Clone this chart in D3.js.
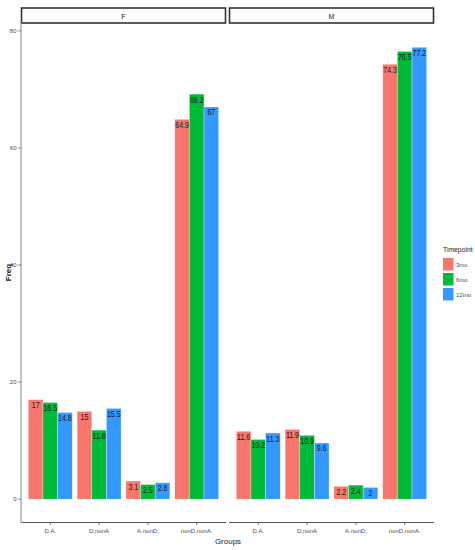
<!DOCTYPE html>
<html><head><meta charset="utf-8">
<script src="https://cdn.jsdelivr.net/npm/d3@7"></script>
<style>body{margin:0;background:#fff}svg{display:block}</style>
</head><body>
<script>
const groups = ["D.A.", "D.nonA", "A.nonD.", "nonD.nonA."];
const panels = ["F", "M"];
const timepoints = ["3mo", "6mo", "12mo"];
const colors = ["#F8766D", "#00BA38", "#3399FF"];
const valuesF = [[17, 16.5, 14.8], [15, 11.8, 15.5], [3.1, 2.5, 2.8], [64.9, 69.2, 67]];
const valuesM = [[11.6, 10.2, 11.3], [11.9, 10.9, 9.6], [2.2, 2.4, 2], [74.3, 76.5, 77.2]];
const yTicks = [0, 20, 40, 60, 80];

(function () {
const W = 475, H = 550;
const svg = d3.select("body").append("svg").attr("width", W).attr("height", H);
const pTop = 23, pBottom = 522;
const panelX = [[21, 226], [229, 434]];
const y = d3.scaleLinear().domain([-3.9, 81.35]).range([pBottom, pTop]);
const sans = "'Liberation Sans',Arial,sans-serif";

const data = [valuesF, valuesM];
panels.forEach((p, pi) => {
  const [x0, x1] = panelX[pi];
  const xc = d3.scaleLinear().domain([0.4, 4.6]).range([x0, x1]);
  const unit = xc(2) - xc(1);
  const bw = 0.9 * unit / 3;
  const g = svg.append("g");
  g.append("rect").attr("x", x0 + 0.5).attr("y", 8).attr("width", x1 - x0 - 1).attr("height", 15)
    .attr("fill", "#fff").attr("stroke", "#333").attr("stroke-width", 1.6);
  g.append("text").attr("x", (x0 + x1) / 2).attr("y", 18.5).attr("text-anchor", "middle")
    .attr("font-family", sans).attr("font-size", 7).attr("fill", "#1a1a1a").text(p);
  groups.forEach((gname, gi) => {
    const cx = xc(gi + 1);
    data[pi][gi].forEach((v, ti) => {
      const bx = cx - 0.45 * unit + ti * bw;
      g.append("rect").attr("x", bx).attr("y", y(v)).attr("width", bw).attr("height", y(0) - y(v))
        .attr("fill", colors[ti]).attr("stroke", "#ffffff").attr("stroke-opacity", 0.5).attr("stroke-width", 0.6);
      g.append("text").attr("transform", `translate(${bx + bw / 2},${y(v) + 8.5}) scale(0.78,1)`)
        .attr("text-anchor", "middle")
        .attr("font-family", sans).attr("font-size", 9).attr("fill", "#1a1a1a").text(v);
    });
    g.append("line").attr("x1", cx).attr("x2", cx).attr("y1", pBottom).attr("y2", pBottom + 3)
      .attr("stroke", "#333").attr("stroke-width", 0.7);
    g.append("text").attr("x", cx).attr("y", pBottom + 11).attr("text-anchor", "middle")
      .attr("font-family", sans).attr("font-size", 6).attr("fill", "#4d4d4d").text(gname);
  });
  g.append("line").attr("x1", x0).attr("x2", x1).attr("y1", pBottom + 0.5).attr("y2", pBottom + 0.5)
    .attr("stroke", "#555").attr("stroke-width", 1.2);
});

const ya = svg.append("g");
ya.append("line").attr("x1", 21).attr("x2", 21).attr("y1", pTop).attr("y2", pBottom + 1)
  .attr("stroke", "#aaa").attr("stroke-width", 1.4);
yTicks.forEach(t => {
  ya.append("line").attr("x1", 18).attr("x2", 21).attr("y1", y(t)).attr("y2", y(t)).attr("stroke", "#555").attr("stroke-width", 0.7);
  ya.append("text").attr("x", 16.5).attr("y", y(t) + 2).attr("text-anchor", "end")
    .attr("font-family", sans).attr("font-size", 6).attr("fill", "#4d4d4d").text(t);
});

svg.append("text").attr("transform", `translate(11,${(pTop + pBottom) / 2}) rotate(-90)`).attr("text-anchor", "middle")
  .attr("font-family", sans).attr("font-size", 8).attr("font-weight", "bold").attr("fill", "#1a1a1a").text("Freq");
svg.append("text").attr("x", 228).attr("y", 544).attr("text-anchor", "middle")
  .attr("font-family", sans).attr("font-size", 8).attr("fill", "#1a1a1a").text("Groups");

const lg = svg.append("g");
lg.append("text").attr("x", 443).attr("y", 252).attr("font-family", sans).attr("font-size", 6.8)
  .attr("fill", "#1a1a1a").text("Timepoint");
timepoints.forEach((t, i) => {
  const ky = 258 + i * 15;
  lg.append("rect").attr("x", 443).attr("y", ky).attr("width", 10.5).attr("height", 12.5).attr("fill", colors[i]);
  lg.append("text").attr("x", 456).attr("y", ky + 8.5).attr("font-family", sans).attr("font-size", 6)
    .attr("fill", "#4d4d4d").text(t);
});
})();
</script>
</body></html>
